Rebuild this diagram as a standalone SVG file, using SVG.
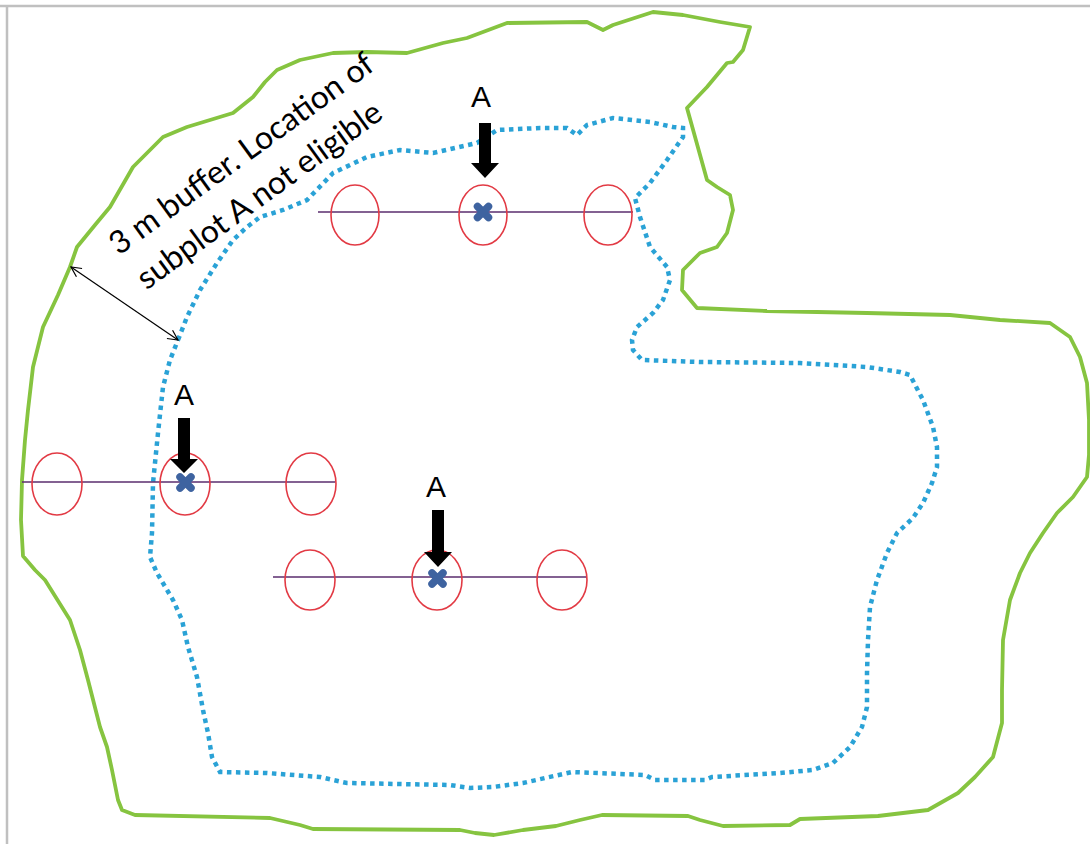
<svg xmlns="http://www.w3.org/2000/svg" width="1090" height="844" viewBox="0 0 1090 844">
<defs>
<style>
.frame{stroke:#c0c0c0;stroke-width:2.5;fill:none}
.green{stroke:#86c440;stroke-width:3.8;fill:none;stroke-linejoin:round;stroke-linecap:round}
.blue{stroke:#2aa2d6;stroke-width:4.5;fill:none;stroke-dasharray:4.5 4.5}
.axis{stroke:#5a2d6e;stroke-width:1.3}
.plot{stroke:#e23a44;stroke-width:1.6;fill:none}
.cross{stroke:#3e63a0;stroke-width:7.5;stroke-linecap:round}
.blk{fill:#000}
.lbl{font-family:"Liberation Sans",Arial,sans-serif;font-size:30px;fill:#000;text-anchor:middle}
.note{font-family:Lato,"Open Sans",sans-serif;font-size:32px;fill:#000}
.dim{stroke:#000;stroke-width:1.2;fill:none}
</style>
<marker id="open" viewBox="0 0 12 12" refX="11" refY="6" markerWidth="12" markerHeight="12" markerUnits="userSpaceOnUse" orient="auto-start-reverse">
<path d="M1,1 L11,6 L1,11" fill="none" stroke="#000" stroke-width="1.2"/>
</marker>
</defs>
<rect width="1090" height="844" fill="#fff"/>
<g id="frame">
<line class="frame" x1="0" y1="6" x2="1090" y2="6"/>
<line class="frame" x1="7" y1="6" x2="7" y2="844"/>
</g>
<g id="boundary">
<path class="green" d="M118,800 L112,770 L107,747 L100,727 L88,680 L80,650 L70,620 L45,580 L35,570 L23,556 L21,520 L22,480 L25,440 L28,410 L33,367 L43,327 L58,295 L70,267 L77,247 L95,225 L110,207 L133,167 L163,137 L187,127 L233,113 L253,97 L265,82 L277,70 L300,60 L333,53 L367,52 L407,53 L443,43 L467,38 L507,23 L587,22 L603,30 L613,25 L653,12 L683,15 L720,22 L750,27 L743,50 L733,62 L727,63 L707,87 L687,108 L707,180 L717,187 L730,195 L733,210 L727,233 L717,247 L700,253 L683,270 L682,290 L697,308 L767,311 L867,313 L950,315 L1000,320 L1050,323 L1070,337 L1080,357 L1087,383 L1089,420 L1089,455 L1087,477 L1073,497 L1057,513 L1043,533 L1030,553 L1020,573 L1010,600 L1003,640 L1002,690 L1002,723 L993,757 L975,777 L958,793 L928,810 L878,816 L800,819 L790,825 L723,826 L700,820 L688,816 L602,815 L580,820 L556,826 L523,830 L494,835 L475,833 L460,830 L313,829 L300,825 L270,818 L135,815 L122,810 Z"/>
</g>
<g id="buffer">
<path class="blue" d="M178,340 L187,317 L200,290 L217,263 L233,240 L247,227 L260,217 L283,210 L307,200 L333,173 L367,157 L400,150 L433,153 L477,143 L497,130 L540,128 L567,128 L577,135 L587,125 L613,118 L650,122 L673,127 L683,128 L683,137 L667,160 L650,183 L635,198 L640,217 L650,247 L667,267 L670,280 L663,300 L653,313 L637,327 L632,340 L633,350 L642,360 L700,362 L800,363 L867,367 L900,372 L910,375 L923,400 L933,427 L937,447 L937,467 L932,483 L923,503 L913,518 L897,533 L887,553 L877,580 L870,607 L868,640 L867,673 L867,707 L862,727 L850,747 L833,763 L813,770 L780,773 L712,777 L705,780 L655,780 L645,775 L572,772 L545,778 L523,783 L493,787 L470,788 L450,785 L347,783 L333,780 L320,777 L267,773 L220,772 L212,757 L208,733 L203,710 L197,677 L188,647 L182,620 L173,600 L157,573 L150,557 L152,533 L153,483 L158,433 L163,387 L170,360 Z"/>
</g>
<g id="transect1">
<line class="axis" x1="318" y1="212" x2="633" y2="212"/>
<ellipse class="plot" cx="355" cy="215" rx="24" ry="30"/>
<ellipse class="plot" cx="483" cy="215" rx="24" ry="30"/>
<ellipse class="plot" cx="608" cy="215" rx="24" ry="30"/>
<line class="cross" x1="477.5" y1="206.5" x2="488.5" y2="217.5"/>
<line class="cross" x1="488.5" y1="206.5" x2="477.5" y2="217.5"/>
</g>
<g id="transect2">
<line class="axis" x1="22" y1="482" x2="335" y2="482"/>
<ellipse class="plot" cx="57" cy="484" rx="25" ry="31"/>
<ellipse class="plot" cx="185" cy="484" rx="25" ry="31"/>
<ellipse class="plot" cx="311" cy="484" rx="25" ry="31"/>
<line class="cross" x1="180" y1="477" x2="191" y2="488"/>
<line class="cross" x1="191" y1="477" x2="180" y2="488"/>
</g>
<g id="transect3">
<line class="axis" x1="273" y1="577" x2="587" y2="577"/>
<ellipse class="plot" cx="310" cy="580" rx="25" ry="30"/>
<ellipse class="plot" cx="437" cy="580" rx="25" ry="30"/>
<ellipse class="plot" cx="562" cy="580" rx="25" ry="30"/>
<line class="cross" x1="432" y1="573" x2="443" y2="584"/>
<line class="cross" x1="443" y1="573" x2="432" y2="584"/>
</g>
<g id="pointer1">
<text class="lbl" x="481" y="107">A</text>
<path class="blk" d="M479,123 H491 V163 H499 L485,178 L471,163 H479 Z"/>
</g>
<g id="pointer2">
<text class="lbl" x="184" y="405">A</text>
<path class="blk" d="M178,418 H190 V459 H198 L184,473 L170,459 H178 Z"/>
</g>
<g id="pointer3">
<text class="lbl" x="436" y="497">A</text>
<path class="blk" d="M432,510 H444 V552 H452 L438,567 L424,552 H432 Z"/>
</g>
<g id="connectors">
<line class="dim" x1="71" y1="267" x2="178" y2="340" marker-start="url(#open)" marker-end="url(#open)"/>
</g>
<g id="note" transform="translate(119,256) rotate(-36)">
<text class="note" x="0" y="0">3 m buffer. Location of</text>
<text class="note" x="2" y="44">subplot A not eligible</text>
</g>
</svg>
